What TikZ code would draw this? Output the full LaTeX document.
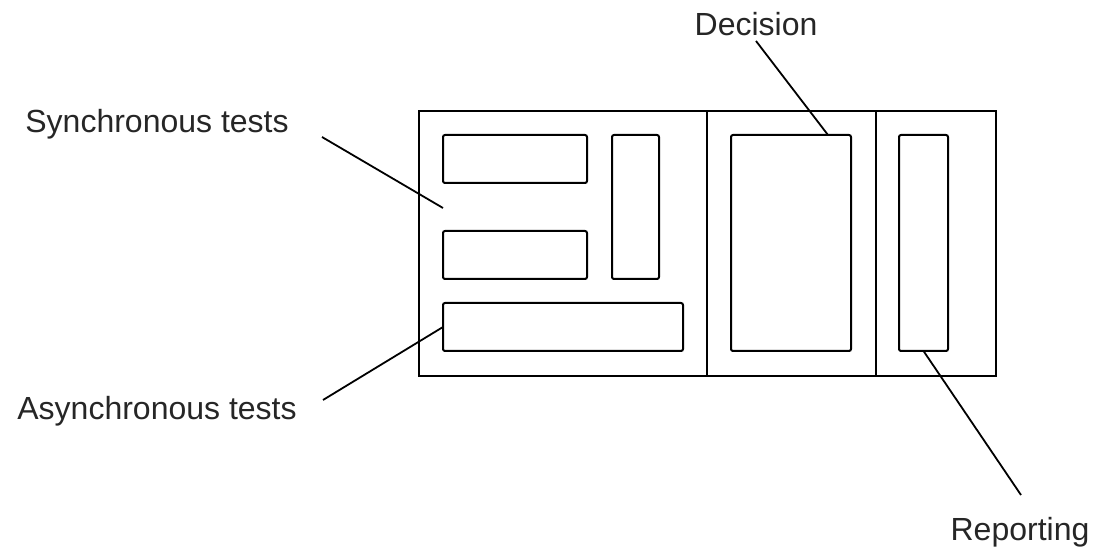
\documentclass[tikz,border=0pt]{standalone}
\usepackage{fontspec}
\setmainfont{Liberation Sans}
\begin{document}
\begin{tikzpicture}[x=0.5pt,y=-0.5pt,
  box/.style={draw=black,line width=1pt,rounded corners=1pt,anchor=north west,inner sep=0pt,outer sep=0pt},
  part/.style={draw=black,line width=1pt,anchor=north west,inner sep=0pt,outer sep=0pt},
  lbl/.style={font=\fontsize{16pt}{19pt}\selectfont,inner sep=0pt,text=black!85},
  lead/.style={draw=black,line width=0.9pt}]
\path[use as bounding box,fill=white] (0,0) rectangle (1103,549);
% compartments
\node[part,minimum width=144pt,minimum height=132.5pt] (left) at (419,111) {};
\node[part,minimum width=84.5pt,minimum height=132.5pt] (mid) at (707,111) {};
\node[part,minimum width=60pt,minimum height=132.5pt] (right) at (876,111) {};
% inner boxes
\node[box,minimum width=72pt,minimum height=24pt] (s1) at (443,135) {};
\node[box,minimum width=72pt,minimum height=24pt] (s2) at (443,231) {};
\node[box,minimum width=23.5pt,minimum height=72pt] (s3) at (612,135) {};
\node[box,minimum width=120pt,minimum height=24pt] (as) at (443,303) {};
\node[box,minimum width=60pt,minimum height=108pt] (dec) at (731,135) {};
\node[box,minimum width=24.5pt,minimum height=108pt] (rep) at (899,135) {};
% labels
\node[lbl,anchor=base west] (lsync) at (25,133) {Synchronous tests};
\node[lbl,anchor=base west] (lasync) at (17,420) {Asynchronous tests};
\node[lbl,anchor=base] (ldec) at (756,36) {Decision};
\node[lbl,anchor=base] (lrep) at (1020,541) {Reporting};
% leader ends
\coordinate (syncA) at (322,137);
\coordinate (syncB) at (443,208);
\coordinate (asyncA) at (323,400);
\coordinate (decA) at (756,41);
\coordinate (decB) at (828,135);
\coordinate (repB) at (1021,495);
% leaders
\draw[lead] (syncA) -- (syncB);
\draw[lead] (asyncA) -- (as.west);
\draw[lead] (decA) -- (decB);
\draw[lead] (rep.south) -- (repB);
\end{tikzpicture}
\end{document}
